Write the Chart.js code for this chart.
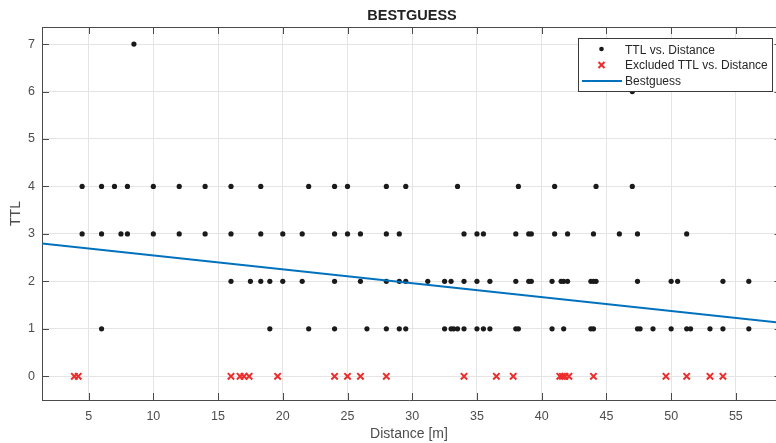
<!DOCTYPE html>
<html>
<head>
<meta charset="utf-8">
<script src="https://cdn.jsdelivr.net/npm/chart.js@4/dist/chart.umd.min.js"></script>
<style>
  html, body { margin: 0; padding: 0; background: #ffffff; overflow: hidden; }
  #wrap { width: 776px; height: 443px; position: relative; }
  canvas { display: block; }
</style>
</head>
<body>
<div id="wrap"><canvas id="c" width="776" height="443"></canvas></div>
<script>
// ---- data ----
const ttl7Distances = [8.5];
const ttl6Distances = [47.0];
const ttl4Distances = [4.5, 6.0, 7.0, 8.0, 10.0, 12.0, 14.0, 16.0, 18.3, 22.0, 24.0, 25.0, 28.0, 29.5, 33.5, 38.2, 41.0, 44.2, 47.0];
const ttl3Distances = [4.5, 6.0, 7.5, 8.0, 10.0, 12.0, 14.0, 16.0, 18.3, 20.0, 21.5, 24.0, 25.0, 26.0, 28.0, 29.0, 34.0, 35.0, 35.5, 38.0, 39.0, 39.2, 41.0, 42.0, 44.0, 46.0, 47.4, 51.2];
const ttl2Distances = [16.0, 17.5, 18.3, 19.0, 20.0, 21.5, 24.0, 26.0, 28.0, 29.0, 29.5, 31.2, 32.5, 33.0, 34.0, 35.0, 36.0, 38.0, 39.0, 39.2, 40.8, 41.5, 41.7, 42.0, 43.8, 44.0, 44.2, 47.4, 50.0, 50.5, 54.0, 56.0];
const ttl1Distances = [6.0, 19.0, 22.0, 24.0, 26.5, 28.0, 29.0, 29.5, 32.5, 33.0, 33.2, 33.5, 34.0, 35.0, 35.5, 36.0, 38.0, 38.2, 40.8, 41.7, 43.8, 44.0, 47.4, 47.6, 48.6, 50.0, 51.2, 51.5, 53.0, 54.0, 56.0];
const excludedDistances = [3.9, 4.2, 16.0, 16.7, 17.0, 17.4, 19.6, 24.0, 25.0, 26.0, 28.0, 34.0, 36.5, 37.8, 41.4, 41.6, 41.8, 42.1, 44.0, 49.6, 51.2, 53.0, 54.0];
const excludedTTL = 0;
const fitDistance = [1.4, 58.1];
const fitTTL = [2.80, 1.14];
const xTickValues = [5, 10, 15, 20, 25, 30, 35, 40, 45, 50, 55];
const yTickValues = [0, 1, 2, 3, 4, 5, 6, 7];
const legendLabels = ['TTL vs. Distance', 'Excluded TTL vs. Distance', 'Bestguess'];
const titleText = 'BESTGUESS';
const xTitle = 'Distance [m]';
const yTitle = 'TTL';

// ---- build datasets ----
const keptGroups = [[7, ttl7Distances], [6, ttl6Distances], [4, ttl4Distances], [3, ttl3Distances], [2, ttl2Distances], [1, ttl1Distances]];
const keptPoints = [];
keptGroups.forEach(([ttl, ds]) => ds.forEach(d => keptPoints.push({ x: d, y: ttl })));
const excludedPoints = excludedDistances.map(d => ({ x: d, y: excludedTTL }));
const fitPoints = fitDistance.map((d, i) => ({ x: d, y: fitTTL[i] }));

const FONT = '"Liberation Sans", Arial, Helvetica, sans-serif';
const AXIS_COLOR = '#4a4a4a';
const LABEL_COLOR = '#4d4d4d';
const GRID_COLOR = '#e4e4e4';
const DOT_COLOR = '#1a1a1a';
const X_COLOR = '#ec2b2b';
const LINE_COLOR = '#0072BD';

const decorPlugin = {
  id: 'decor',
  afterDraw(chart) {
    const ctx = chart.ctx;
    const a = chart.chartArea;
    const xs = chart.scales.x, ys = chart.scales.y;
    ctx.save();
    ctx.strokeStyle = AXIS_COLOR;
    ctx.lineWidth = 1;
    ctx.beginPath();
    ctx.moveTo(a.left, a.top + 0.5); ctx.lineTo(a.right, a.top + 0.5);
    ctx.stroke();
    const tl = 7;
    ctx.beginPath();
    xTickValues.forEach(v => {
      const px = Math.round(xs.getPixelForValue(v)) + 0.5;
      ctx.moveTo(px, a.bottom); ctx.lineTo(px, a.bottom - tl);
      ctx.moveTo(px, a.top); ctx.lineTo(px, a.top + tl);
    });
    yTickValues.forEach(v => {
      const py = Math.round(ys.getPixelForValue(v)) + 0.5;
      ctx.moveTo(a.left, py); ctx.lineTo(a.left + tl, py);
      ctx.moveTo(a.right, py); ctx.lineTo(a.right - 1.5, py);
    });
    ctx.stroke();

    ctx.fillStyle = '#222222';
    ctx.font = 'bold 14.5px ' + FONT;
    ctx.textAlign = 'center';
    ctx.textBaseline = 'middle';
    ctx.fillText(titleText, 412, 16);

    const lx = 578.5, ly = 38.5, lw = 194, lh = 53;
    ctx.fillStyle = '#ffffff';
    ctx.fillRect(lx, ly, lw, lh);
    ctx.strokeStyle = '#3a3a3a';
    ctx.lineWidth = 1;
    ctx.strokeRect(lx, ly, lw, lh);
    ctx.font = '12px ' + FONT;
    ctx.textAlign = 'left';
    ctx.fillStyle = '#262626';
    const rows = [50.5, 66, 82];
    legendLabels.forEach((t, i) => ctx.fillText(t, 625, rows[i]));
    ctx.fillStyle = DOT_COLOR;
    ctx.beginPath(); ctx.arc(601.5, rows[0] - 1.5, 2.3, 0, Math.PI * 2); ctx.fill();
    ctx.strokeStyle = X_COLOR; ctx.lineWidth = 2;
    const cx = 601.5, cy = rows[1] - 1, s = 3;
    ctx.beginPath();
    ctx.moveTo(cx - s, cy - s); ctx.lineTo(cx + s, cy + s);
    ctx.moveTo(cx + s, cy - s); ctx.lineTo(cx - s, cy + s);
    ctx.stroke();
    ctx.strokeStyle = LINE_COLOR; ctx.lineWidth = 2;
    ctx.beginPath(); ctx.moveTo(582, rows[2] - 1); ctx.lineTo(622, rows[2] - 1); ctx.stroke();
    ctx.restore();
  }
};

new Chart(document.getElementById('c'), {
  type: 'scatter',
  data: {
    datasets: [
      {
        label: legendLabels[2], data: fitPoints, showLine: true, order: 0,
        borderColor: LINE_COLOR, borderWidth: 2, pointRadius: 0, pointHoverRadius: 0, fill: false
      },
      {
        label: legendLabels[1], data: excludedPoints, order: 1,
        pointStyle: 'crossRot', pointRadius: 4.5, borderWidth: 2,
        borderColor: X_COLOR, backgroundColor: X_COLOR
      },
      {
        label: legendLabels[0], data: keptPoints, order: 2,
        pointStyle: 'circle', pointRadius: 2.6, borderWidth: 0,
        backgroundColor: DOT_COLOR, borderColor: DOT_COLOR
      }
    ]
  },
  options: {
    responsive: false,
    animation: false,
    devicePixelRatio: 1,
    layout: { autoPadding: false, padding: { top: 27, right: 0, left: 0, bottom: 0 } },
    plugins: { legend: { display: false }, title: { display: false }, tooltip: { enabled: false } },
    scales: {
      x: {
        type: 'linear', min: 1.4, max: 58.1,
        afterBuildTicks(scale) { scale.ticks = xTickValues.map(v => ({ value: v })); },
        afterFit(scale) { scale.height = 43; scale.paddingLeft = 0; scale.paddingRight = 0; },
        grid: { color: GRID_COLOR, drawTicks: false, lineWidth: 1 },
        border: { display: true, color: AXIS_COLOR, width: 1 },
        ticks: { color: LABEL_COLOR, font: { family: FONT, size: 12.5 }, padding: 9, maxRotation: 0, autoSkip: false },
        title: { display: true, text: xTitle, color: LABEL_COLOR, font: { family: FONT, size: 14 }, padding: { top: 0, bottom: 0 } }
      },
      y: {
        type: 'linear', min: -0.5, max: 7.36,
        afterBuildTicks(scale) { scale.ticks = yTickValues.map(v => ({ value: v })); },
        afterFit(scale) { scale.width = 42; scale.paddingTop = 0; scale.paddingBottom = 0; },
        grid: { color: GRID_COLOR, drawTicks: false, lineWidth: 1 },
        border: { display: true, color: AXIS_COLOR, width: 1 },
        ticks: { color: LABEL_COLOR, font: { family: FONT, size: 12.5 }, padding: 7, autoSkip: false },
        title: { display: true, text: yTitle, color: LABEL_COLOR, font: { family: FONT, size: 14 }, padding: { top: 7.5, bottom: 0 } }
      }
    }
  },
  plugins: [decorPlugin]
});
</script>
</body>
</html>
